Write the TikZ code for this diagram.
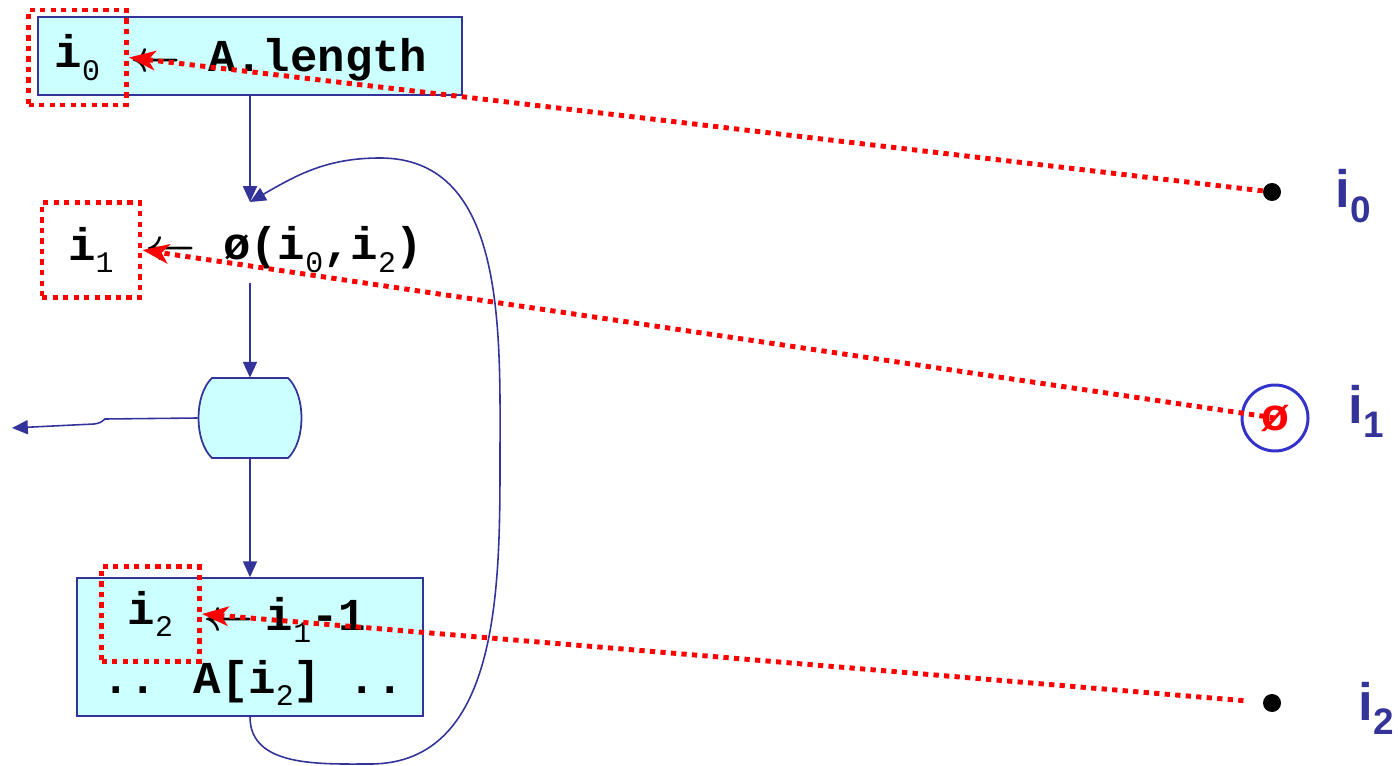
\documentclass[tikz,border=0pt]{standalone}
\usepackage{fontspec}
\setmainfont{Liberation Sans}
\newfontfamily\codefont{Liberation Mono}
\usetikzlibrary{arrows.meta,positioning,calc}
\definecolor{boxfill}{HTML}{CCFFFF}
\definecolor{flowblue}{HTML}{333399}
\definecolor{ringblue}{HTML}{3333CC}
\definecolor{ptrred}{HTML}{FF0000}
\newcommand{\csub}[1]{\raisebox{-7pt}{\fontsize{17}{17}\selectfont\mdseries #1}}
\newcommand{\lsub}[1]{\raisebox{-8pt}{\fontsize{21}{21}\selectfont #1}}
\newcommand{\getsarrow}{{\boldmath$\leftarrow$}}

\begin{document}
\begin{tikzpicture}[x=0.02cm,y=-0.02cm,every node/.style={inner sep=0pt},
    flow/.style={draw=flowblue,line width=0.9pt},
    flowarrow/.style={flow,-{Triangle[length=9pt,width=8pt]}},
    block/.style={draw=flowblue,fill=boxfill,line width=1pt},
    code/.style={font=\codefont\bfseries\fontsize{26}{30}\selectfont},
    varbox/.style={draw=ptrred,line width=2.8pt,dash pattern=on 3pt off 3pt,code,minimum width=1.96cm,minimum height=1.9cm},
    pointer/.style={draw=ptrred,line width=2.8pt,dash pattern=on 3pt off 3pt,-{Stealth[length=15pt,width=11pt,inset=4pt]}},
    valdot/.style={circle,fill=black,minimum size=0.36cm},
    varlabel/.style={anchor=base west,text=flowblue,font=\bfseries\fontsize{30}{30}\selectfont}]
  \useasboundingbox (0,0) rectangle (1398,766);

  % blocks of the loop
  \node[block,minimum width=8.48cm,minimum height=1.56cm] (init) at (250,56) {};
  \node[block,minimum width=6.92cm,minimum height=2.76cm] (body) at (250,647) {};
  \node[minimum width=2.08cm,minimum height=1.6cm] (test) at (250,418) {};
  \filldraw[block] (212,378) -- (288,378) .. controls (306,395) and (306,441) .. (288,458)
    -- (212,458) .. controls (194,441) and (194,395) .. (212,378) -- cycle;

  % variables
  \node[varbox] (v0) at (77.5,57.5) {i\csub{0}};
  \node[varbox] (v1) at (91,250) {i\csub{1}};
  \node[varbox] (v2) at (150.5,614) {i\csub{2}};
  \node[code,anchor=base west] (len) at (130,72) {\getsarrow{} A.length};
  \node[code,anchor=base west] (phi) at (145,260) {\getsarrow{} ø(i\csub{0},i\csub{2})};
  \node[code,anchor=base west] (dec) at (203,630) {\getsarrow\hspace{7pt}i\csub{1}-1};
  \node[code,anchor=base west] (use) at (102,693) {.. A[i\csub{2}] ..};

  % control flow
  \coordinate (merge) at (250,202);
  \coordinate (split) at (250,283);
  \coordinate (exit) at (12,428);
  \draw[flowarrow] (init.south) -- (merge);
  \draw[flowarrow] (split) -- (test.north);
  \draw[flowarrow] (test.south) -- (body.north);
  \draw[flowarrow] (test.west) -- (105,419) .. controls (100,423) .. (94,424) -- (exit);
  \draw[flowarrow] (body.south) to[out=-90,in=180] (370,764) to[out=0,in=-90] (500,460)
    to[out=90,in=0] (380,158) to[out=180,in=30] (merge);

  % values on the right
  \node[valdot] (d0) at (1272,192) {};
  \node[valdot] (d2) at (1272,703) {};
  \node[circle,draw=ringblue,line width=1.7pt,minimum size=1.32cm,text=ptrred,
    font=\bfseries\fontsize{26}{26}\selectfont] (phinode) at (1275,418) {ø};
  \node[varlabel] (l0) at (1335,208) {i\lsub{0}};
  \node[varlabel] (l1) at (1348,423) {i\lsub{1}};
  \node[varlabel] (l2) at (1358,720) {i\lsub{2}};

  \draw[pointer] (d0) -- (v0.east);
  \draw[pointer] (phinode.center) -- (v1.east);
  \draw[pointer,shorten <=11pt] (d2) -- (v2.east);
\end{tikzpicture}
\end{document}
